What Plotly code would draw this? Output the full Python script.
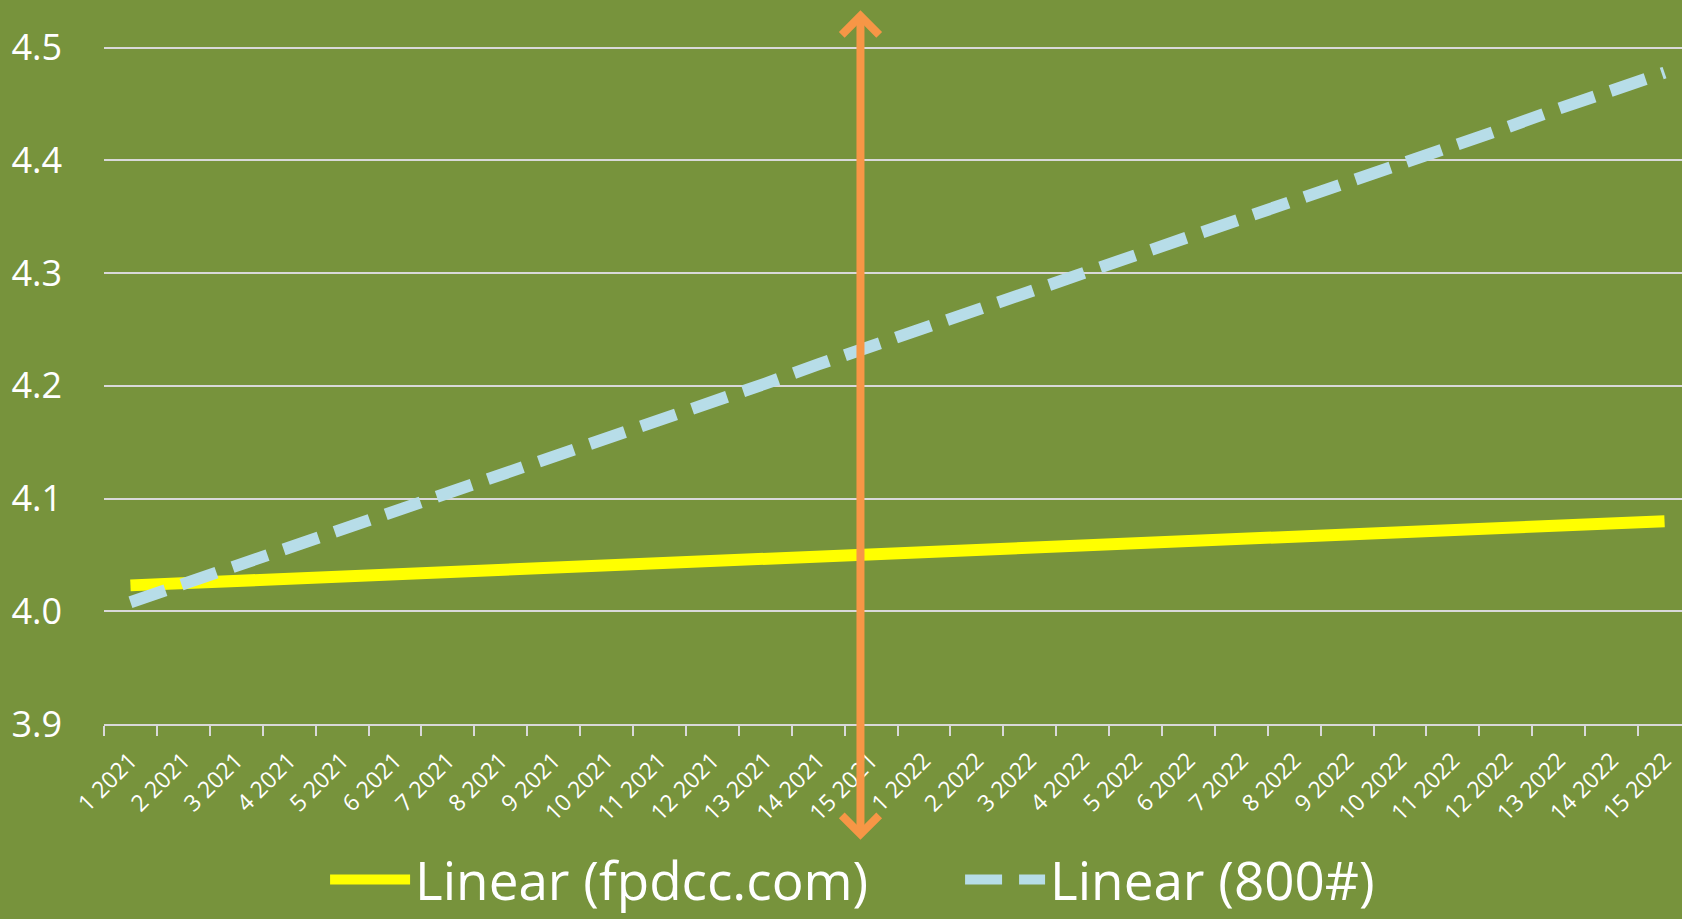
import plotly.graph_objects as go

# ---- data ----
categories = [f"{i} 2021" for i in range(1, 16)] + [f"{i} 2022" for i in range(1, 16)]
fpdcc_trend = [4.023, 4.025, 4.027, 4.029, 4.031, 4.033, 4.035, 4.037, 4.039, 4.041,
               4.043, 4.045, 4.047, 4.049, 4.051, 4.052, 4.054, 4.056, 4.058, 4.060,
               4.062, 4.064, 4.066, 4.068, 4.070, 4.072, 4.074, 4.076, 4.078, 4.080]
tollfree_trend = [4.008, 4.024, 4.040, 4.057, 4.073, 4.089, 4.105, 4.121, 4.138, 4.154,
                  4.170, 4.186, 4.202, 4.219, 4.235, 4.251, 4.267, 4.283, 4.300, 4.316,
                  4.332, 4.348, 4.365, 4.381, 4.397, 4.413, 4.429, 4.446, 4.462, 4.478]
series_names = ["Linear (fpdcc.com)", "Linear (800#)"]
y_ticks = [3.9, 4.0, 4.1, 4.2, 4.3, 4.4, 4.5]
y_tick_text = ["3.9", "4.0", "4.1", "4.2", "4.3", "4.4", "4.5"]
marker_position = 13.8  # category position of the vertical arrow (between "14 2021" and "15 2021")

BG = "#77933C"
GRID = "#D9D9D9"
FONT = "Open Sans"

fig = go.Figure()
fig.add_trace(go.Scatter(
    x=categories, y=fpdcc_trend, mode="lines", name=series_names[0],
    line=dict(color="#FFFF00", width=12),
))
fig.add_trace(go.Scatter(
    x=categories, y=tollfree_trend, mode="lines", name=series_names[1],
    line=dict(color="#B7DDE8", width=12, dash="37px,17px"),
))

# double-headed orange arrow
fig.add_annotation(
    xref="x", yref="paper", x=marker_position, y=-0.160,
    ax=0, ay=-831, axref="pixel", ayref="pixel",
    showarrow=True, arrowhead=4, startarrowhead=4, arrowside="end+start",
    arrowwidth=8, arrowsize=0.9, startarrowsize=0.9,
    arrowcolor="#F79646", text="",
)

fig.update_layout(
    width=1682, height=919,
    template="none",
    paper_bgcolor=BG, plot_bgcolor=BG,
    margin=dict(l=104, r=0, t=0, b=195, pad=0, autoexpand=False),
    font=dict(family=FONT, color="white"),
    showlegend=True,
    legend=dict(
        orientation="h", x=0.1401, xanchor="left", y=-0.215, yanchor="middle",
        font=dict(size=53, color="white", family=FONT),
        bgcolor="rgba(0,0,0,0)", itemwidth=80, entrywidth=540, entrywidthmode="pixels",
    ),
    xaxis=dict(
        type="category", range=[-0.5, 29.33], tickson="boundaries",
        showgrid=False, zeroline=False,
        showline=True, linecolor=GRID, linewidth=2,
        ticks="outside", ticklen=10, tickwidth=2, tickcolor=GRID,
        tickangle=-45, tickfont=dict(size=23, color="white", family=FONT),
        ticklabelstandoff=12,
        automargin=False, fixedrange=True,
    ),
    yaxis=dict(
        range=[3.9, 4.5424], tickvals=y_ticks, ticktext=y_tick_text,
        showgrid=True, gridcolor=GRID, gridwidth=2,
        zeroline=False, showline=False, ticks="",
        tickfont=dict(size=36, color="white", family=FONT),
        ticklabelstandoff=41, automargin=False, fixedrange=True,
    ),
)

fig.write_html(
    "out.html",
    config={"displayModeBar": False},
    post_script="document.body.style.margin='0';document.body.style.overflow='hidden';document.body.style.background='" + BG + "';",
)
